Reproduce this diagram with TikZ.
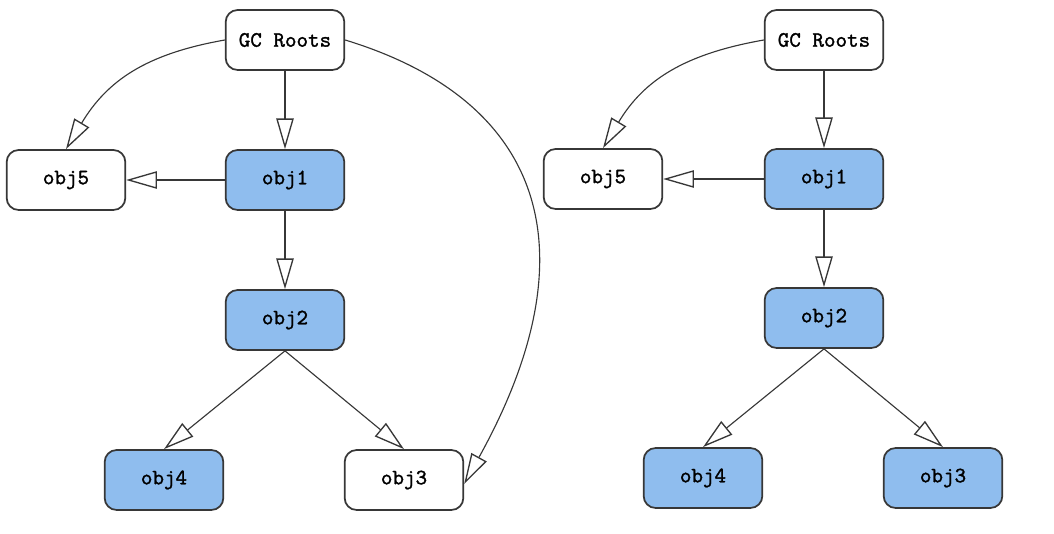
\documentclass[tikz,border=0pt]{standalone}
\usepackage{fontspec}
\newfontfamily\boxfont{lmmono10-regular.otf}[FakeBold=1.3]
\usetikzlibrary{arrows.meta}
\definecolor{objblue}{RGB}{143,189,238}
\definecolor{edgegray}{RGB}{55,55,55}
\begin{document}
\begin{tikzpicture}[x=0.75pt,y=0.75pt,
  box/.style={draw=edgegray, line width=1.3pt, rounded corners=9pt, fill=white,
    minimum width=89pt, minimum height=45pt, inner sep=0pt,
    font=\fontsize{16.5pt}{19pt}\boxfont},
  live/.style={box, fill=objblue},
  ref/.style={draw=edgegray, line width=0.85pt,
    -{Triangle[open, length=23pt, width=13pt, line width=1pt]}},
]
\useasboundingbox (0,0) rectangle (1054,-534);
% left diagram
\node[box]  (gcL) at (285,-40)  {GC Roots};
\node[live] (o1L) at (285,-180) {obj1};
\node[box]  (o5L) at (66,-180)  {obj5};
\node[live] (o2L) at (285,-320) {obj2};
\node[live] (o4L) at (164,-480) {obj4};
\node[box]  (o3L) at (404,-480) {obj3};
\draw[ref] (gcL.south) -- (o1L.north);
\draw[ref] (o1L.west) -- (o5L.east);
\draw[ref] (o1L.south) -- (o2L.north);
\draw[ref] (o2L.south) -- (o4L.north);
\draw[ref] (o2L.south) -- (o3L.north);
\draw[ref] (gcL.west) .. controls +(-170:80) and +(59:80) .. (o5L.north);
\draw[ref] (gcL.east) .. controls +(-17:210) and +(61:265) .. ([yshift=-3]o3L.east);
% right diagram
\node[box]  (gcR) at (824,-40)  {GC Roots};
\node[live] (o1R) at (824,-179) {obj1};
\node[box]  (o5R) at (603,-179) {obj5};
\node[live] (o2R) at (824,-318) {obj2};
\node[live] (o4R) at (703,-478) {obj4};
\node[live] (o3R) at (943,-478) {obj3};
\draw[ref] (gcR.south) -- (o1R.north);
\draw[ref] (o1R.west) -- (o5R.east);
\draw[ref] (o1R.south) -- (o2R.north);
\draw[ref] (o2R.south) -- (o4R.north);
\draw[ref] (o2R.south) -- (o3R.north);
\draw[ref] (gcR.west) .. controls +(-170:80) and +(59:80) .. (o5R.north);
\end{tikzpicture}
\end{document}
